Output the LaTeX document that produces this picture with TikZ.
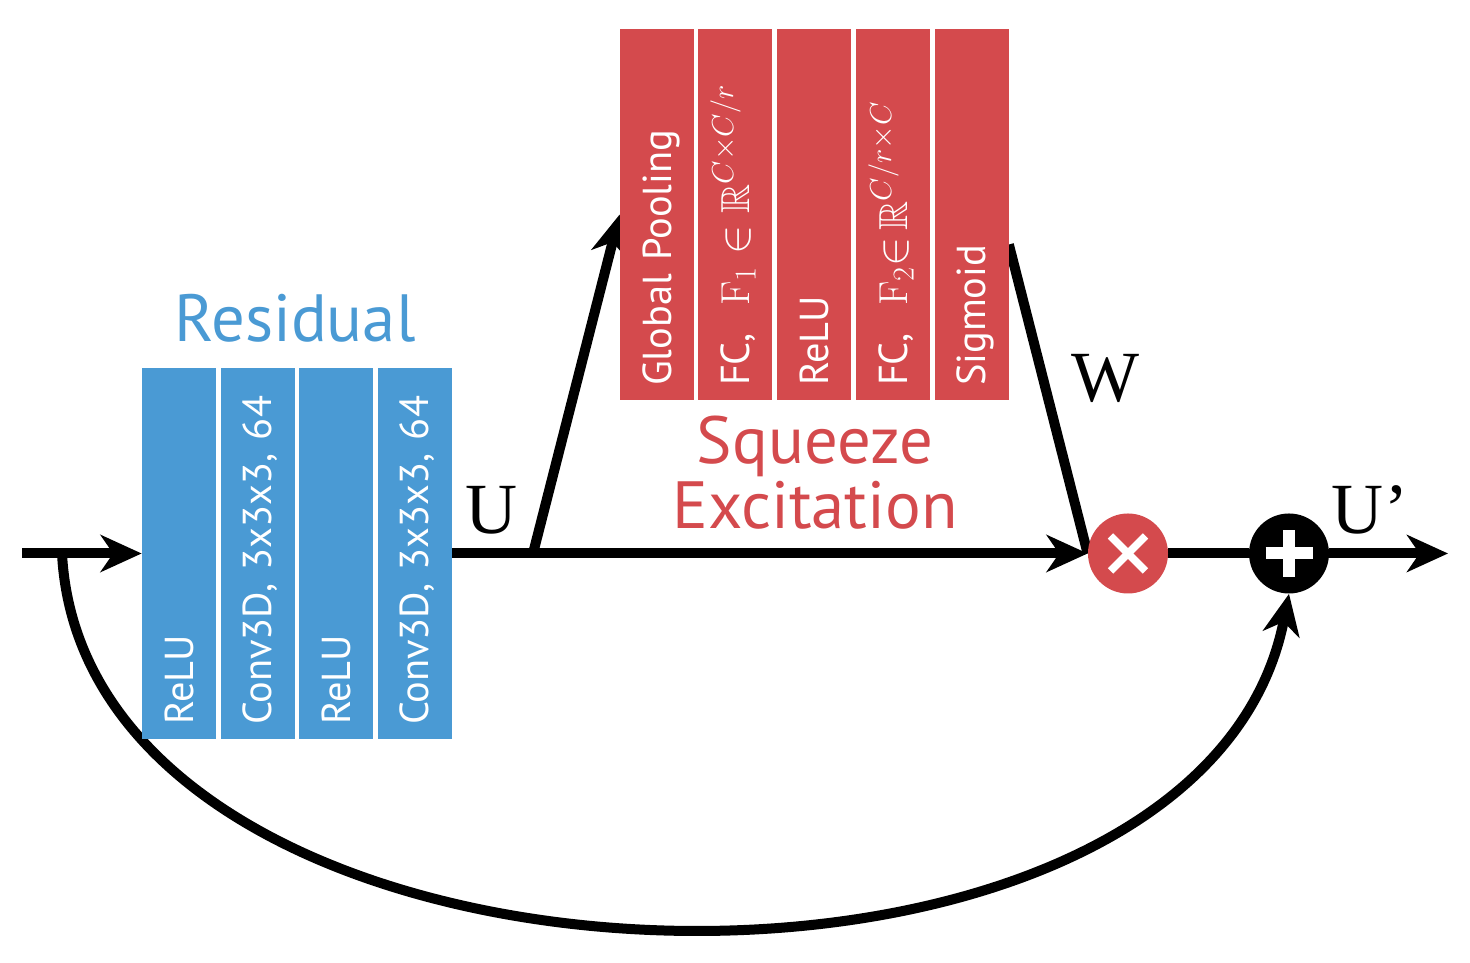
\documentclass[tikz,border=0pt]{standalone}
\usepackage{amssymb,amsmath}
\usepackage{fontspec}
\setsansfont{PT Sans}
\newfontfamily\serlabel{Liberation Serif}
\usepackage{tikz}
\usetikzlibrary{arrows.meta}
\pgfdeclarelayer{bg}
\pgfsetlayers{bg,main}
\definecolor{resblue}{RGB}{74,154,212}
\definecolor{sered}{RGB}{212,74,77}
\tikzset{
        layer/.style={rotate=90, minimum width=7.42cm, minimum height=1.48cm, text width=6.86cm, inner xsep=0.28cm, inner ysep=0pt, align=left, text height=0.70cm, text depth=0.14cm, text=white, font=\sffamily\fontsize{23}{23}\selectfont},
        reslayer/.style={layer, fill=resblue},
        selayer/.style={layer, fill=sered},
        title/.style={font=\sffamily\fontsize{38}{37}\selectfont, align=center},
        sym/.style={font=\serlabel\fontsize{41}{41}\selectfont},
        op/.style={circle, minimum size=1.6cm, inner sep=0pt},
        line/.style={line width=0.2cm},
        conn/.style={line, -{Stealth[length=0.82cm, width=0.74cm, inset=0.25cm]}},
        sign/.style={white, line width=0.15cm}
}
\begin{document}
\begin{tikzpicture}
        \useasboundingbox (0cm, 0cm) rectangle (29.400000cm, 19.260000cm);
        % residual block
        \node (r1) [reslayer] at (3.580000cm, 8.190000cm) {ReLU};
        \node (r2) [reslayer] at (5.150000cm, 8.190000cm) {Conv3D, 3x3x3, 64};
        \node (r3) [reslayer] at (6.720000cm, 8.190000cm) {ReLU};
        \node (r4) [reslayer] at (8.290000cm, 8.190000cm) {Conv3D, 3x3x3, 64};
        \node (res) [title, text=resblue] at (5.900000cm, 12.900000cm) {Residual};
        % squeeze excitation block
        \node (gp) [selayer] at (13.140000cm, 14.970000cm) {Global Pooling};
        \node (f1) [selayer] at (14.700000cm, 14.970000cm) {FC,\ \ $\mathrm{F}_1\in\mathbb{R}^{C\times C/r}$};
        \node (rl) [selayer] at (16.280000cm, 14.970000cm) {ReLU};
        \node (f2) [selayer] at (17.860000cm, 14.970000cm) {FC,\ \ $\mathrm{F}_2{\in}\,\mathbb{R}^{C/r\times C}$};
        \node (sg) [selayer] at (19.430000cm, 14.970000cm) {Sigmoid};
        \node (se) [title, text=sered] at (16.300000cm, 9.800000cm) {Squeeze\\Excitation};
        % operators
        \node (mul) [op, fill=sered] at (22.560000cm, 8.190000cm) {};
        \node (add) [op, fill=black] at (25.780000cm, 8.190000cm) {};
        \draw [sign] ([shift={(-0.35cm,-0.35cm)}]mul.center) -- ([shift={(0.35cm,0.35cm)}]mul.center);
        \draw [sign] ([shift={(-0.35cm,0.35cm)}]mul.center) -- ([shift={(0.35cm,-0.35cm)}]mul.center);
        \draw [sign, line width=0.24cm] ([xshift=-0.47cm]add.center) -- ([xshift=0.47cm]add.center);
        \draw [sign, line width=0.24cm] ([yshift=-0.47cm]add.center) -- ([yshift=0.47cm]add.center);
        \node (lu) [sym] at (9.840000cm, 9.060000cm) {U};
        \node (lw) [sym] at (22.100000cm, 11.700000cm) {W};
        \node (lo) [sym] at (27.400000cm, 9.060000cm) {U’};
        \coordinate (in) at (0.440000cm, 8.190000cm);
        \coordinate (sk) at (1.240000cm, 8.190000cm);
        \coordinate (u) at (10.660000cm, 8.190000cm);
        \coordinate (out) at (28.960000cm, 8.190000cm);
        \begin{pgfonlayer}{bg}
                \draw (in) edge [conn] (r1.north);
                \draw (r4.south) edge [conn] (mul.west);
                \draw (u) edge [conn] (gp.north);
                \draw ([yshift=-0.600000cm]sg.south) edge [line] (mul.west);
                \draw (mul.east) edge [line] (add.west);
                \draw (add.east) edge [conn] (out);
                \draw (sk) edge [conn, out=-87, in=-101, looseness=0.99] (add.south);
        \end{pgfonlayer}
\end{tikzpicture}
\end{document}
